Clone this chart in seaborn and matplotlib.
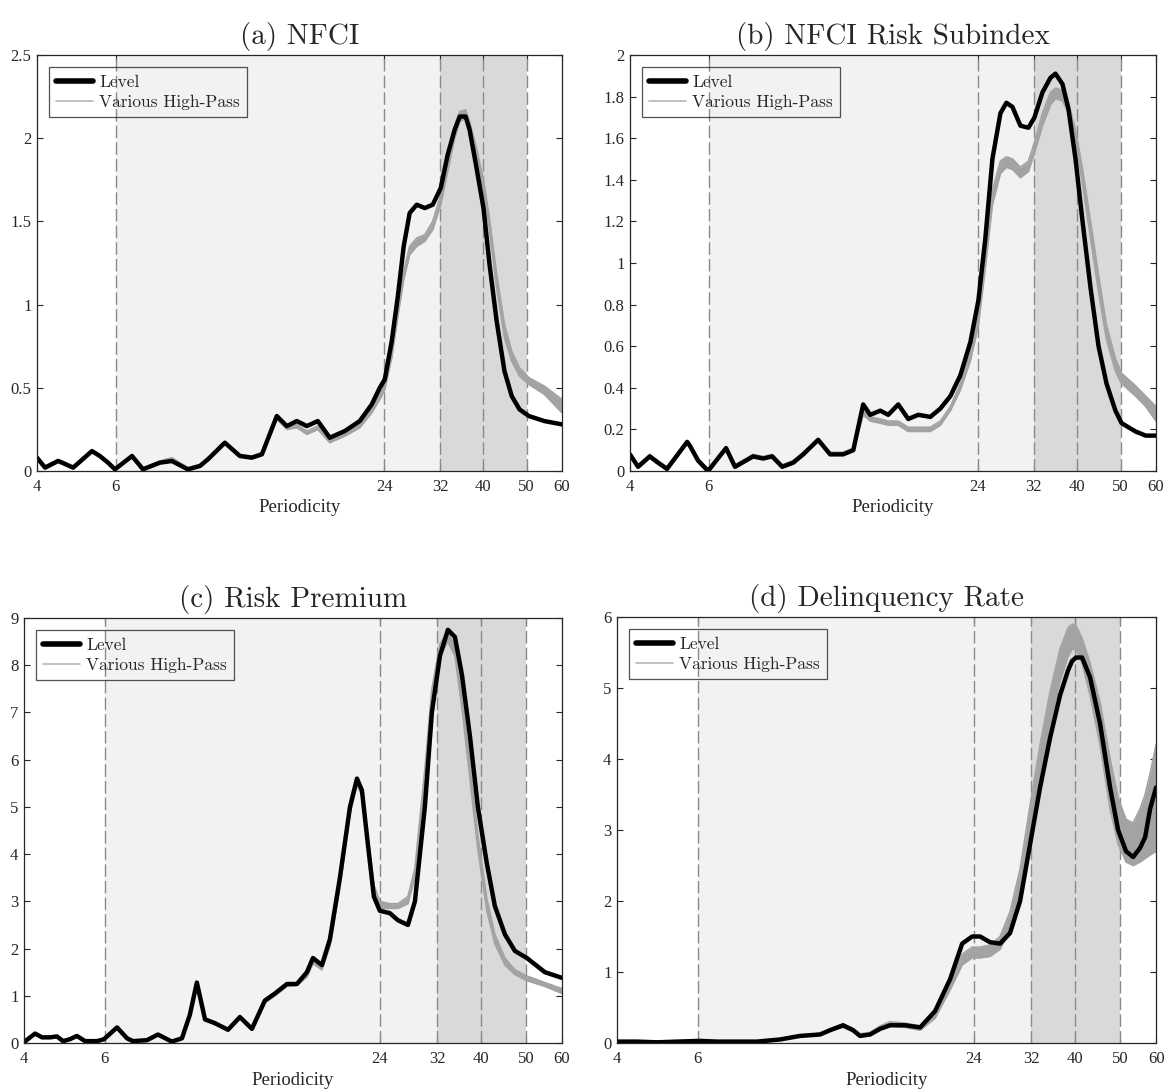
import matplotlib
matplotlib.use("Agg")
import matplotlib.pyplot as plt
import seaborn as sns
from matplotlib.lines import Line2D
from matplotlib.ticker import NullLocator

# (a) NFCI
period_a = [4.00, 4.17, 4.46, 4.55, 4.82, 5.31, 5.53, 5.77, 5.98, 6.53, 6.91, 7.54, 8.02, 8.71,
            9.27, 9.66, 10.54, 11.39, 12.11, 12.76, 13.78, 14.51, 15.28, 16.09, 17.03, 18.11,
            19.57, 21.14, 22.49, 23.44, 24.05, 24.93, 25.73, 26.52, 27.35, 28.36, 29.56, 30.80,
            32.1, 33.27, 34.49, 35.40, 36.50, 37.26, 38.44, 40.02, 41.25, 42.84, 44.6, 46.3,
            48.2, 50.6, 54.8, 60.0]
level_a = [0.08, 0.02, 0.06, 0.05, 0.02, 0.12, 0.09, 0.05, 0.01, 0.09, 0.01, 0.05, 0.06, 0.01,
           0.03, 0.07, 0.17, 0.09, 0.08, 0.10, 0.33, 0.27, 0.30, 0.27, 0.30, 0.20,
           0.24, 0.30, 0.40, 0.50, 0.55, 0.78, 1.05, 1.35, 1.55, 1.60, 1.58, 1.60,
           1.70, 1.90, 2.05, 2.13, 2.13, 2.05, 1.85, 1.58, 1.25, 0.90, 0.60, 0.45,
           0.37, 0.33, 0.30, 0.28]
hp_lo_a = [0.07, 0.02, 0.06, 0.05, 0.02, 0.11, 0.09, 0.05, 0.01, 0.08, 0.01, 0.05, 0.06, 0.01,
           0.03, 0.07, 0.16, 0.09, 0.08, 0.10, 0.31, 0.25, 0.26, 0.22, 0.25, 0.17,
           0.21, 0.26, 0.35, 0.43, 0.49, 0.68, 0.93, 1.15, 1.30, 1.35, 1.38, 1.45,
           1.60, 1.80, 2.00, 2.10, 2.12, 2.05, 1.90, 1.68, 1.45, 1.10, 0.80, 0.66,
           0.57, 0.52, 0.46, 0.35]
hp_hi_a = [0.08, 0.03, 0.07, 0.06, 0.03, 0.12, 0.10, 0.06, 0.02, 0.09, 0.02, 0.06, 0.08, 0.02,
           0.04, 0.08, 0.17, 0.10, 0.09, 0.11, 0.33, 0.27, 0.28, 0.24, 0.27, 0.19,
           0.23, 0.28, 0.37, 0.46, 0.52, 0.72, 0.98, 1.20, 1.35, 1.40, 1.42, 1.50,
           1.66, 1.87, 2.07, 2.16, 2.17, 2.10, 1.96, 1.75, 1.52, 1.18, 0.88, 0.72,
           0.62, 0.56, 0.51, 0.43]

# (b) NFCI Risk Subindex
period_b = [4.00, 4.17, 4.43, 4.62, 4.84, 5.12, 5.37, 5.45, 5.68, 5.98, 6.56, 6.87, 7.54, 7.94,
            8.32, 8.76, 9.27, 9.76, 10.54, 11.21, 11.99, 12.63, 13.29, 13.78, 14.51, 15.12,
            15.92, 16.76, 17.65, 18.78, 19.77, 20.82, 21.92, 23.08, 24.05, 24.93, 25.85, 26.94,
            27.78, 28.66, 29.86, 31.12, 32.1, 33.45, 34.85, 35.76, 37.08, 38.24, 39.65, 41.11,
            42.84, 44.64, 46.52, 48.7, 50.26, 54.0, 56.9, 60.0]
level_b = [0.08, 0.02, 0.07, 0.04, 0.01, 0.08, 0.14, 0.12, 0.05, 0.00, 0.11, 0.02, 0.07, 0.06,
           0.07, 0.02, 0.04, 0.08, 0.15, 0.08, 0.08, 0.10, 0.32, 0.27, 0.29, 0.27,
           0.32, 0.25, 0.27, 0.26, 0.30, 0.36, 0.46, 0.62, 0.82, 1.12, 1.50, 1.72,
           1.77, 1.75, 1.66, 1.65, 1.70, 1.82, 1.89, 1.91, 1.86, 1.74, 1.50, 1.20,
           0.88, 0.60, 0.42, 0.29, 0.23, 0.19, 0.17, 0.17]
hp_lo_b = [0.07, 0.02, 0.07, 0.04, 0.01, 0.08, 0.13, 0.12, 0.05, 0.00, 0.10, 0.02, 0.07, 0.06,
           0.07, 0.02, 0.04, 0.08, 0.14, 0.08, 0.08, 0.10, 0.27, 0.24, 0.23, 0.22,
           0.22, 0.19, 0.19, 0.19, 0.22, 0.29, 0.39, 0.53, 0.70, 0.98, 1.28, 1.43,
           1.46, 1.45, 1.41, 1.44, 1.53, 1.66, 1.76, 1.79, 1.78, 1.72, 1.58, 1.38,
           1.12, 0.86, 0.63, 0.48, 0.42, 0.36, 0.31, 0.24]
hp_hi_b = [0.08, 0.03, 0.08, 0.05, 0.02, 0.09, 0.14, 0.13, 0.06, 0.01, 0.11, 0.03, 0.08, 0.07,
           0.08, 0.03, 0.05, 0.09, 0.15, 0.09, 0.09, 0.11, 0.29, 0.26, 0.25, 0.24,
           0.24, 0.21, 0.21, 0.21, 0.24, 0.31, 0.42, 0.57, 0.75, 1.04, 1.35, 1.49,
           1.51, 1.50, 1.46, 1.49, 1.58, 1.72, 1.82, 1.84, 1.83, 1.77, 1.64, 1.45,
           1.20, 0.94, 0.70, 0.54, 0.47, 0.41, 0.36, 0.31]

# (c) Risk Premium
period_c = [4.00, 4.23, 4.38, 4.56, 4.72, 4.87, 5.04, 5.22, 5.44, 5.78, 5.98, 6.39, 6.72, 6.92,
            7.43, 7.85, 8.42, 8.86, 9.22, 9.55, 9.95, 10.46, 11.17, 11.86, 12.60, 13.45,
            14.15, 15.03, 15.80, 16.62, 17.13, 17.92, 18.66, 19.62, 20.64, 21.38, 21.92, 22.59,
            23.28, 23.99, 25.23, 26.27, 27.63, 28.62, 30.09, 31.17, 32.46, 33.79, 35.00, 36.26,
            37.75, 39.29, 41.11, 42.80, 45.02, 47.34, 50.28, 55.05, 60.0]
level_c = [0.02, 0.20, 0.12, 0.12, 0.14, 0.04, 0.08, 0.15, 0.04, 0.04, 0.08, 0.33, 0.10, 0.04,
           0.06, 0.18, 0.03, 0.10, 0.60, 1.28, 0.50, 0.42, 0.28, 0.55, 0.30, 0.90,
           1.05, 1.25, 1.25, 1.50, 1.80, 1.65, 2.20, 3.50, 5.00, 5.60, 5.35, 4.20,
           3.10, 2.80, 2.75, 2.60, 2.50, 3.00, 5.00, 7.00, 8.20, 8.75, 8.60, 7.80,
           6.50, 5.00, 3.80, 2.90, 2.30, 1.95, 1.80, 1.50, 1.38]
hp_lo_c = [0.02, 0.18, 0.11, 0.11, 0.13, 0.04, 0.07, 0.14, 0.04, 0.04, 0.07, 0.30, 0.09, 0.04,
           0.05, 0.16, 0.03, 0.09, 0.55, 1.22, 0.48, 0.40, 0.27, 0.52, 0.29, 0.85,
           1.00, 1.20, 1.22, 1.40, 1.68, 1.55, 2.05, 3.30, 4.85, 5.45, 5.25, 4.20,
           3.15, 2.85, 2.85, 2.85, 2.95, 3.50, 5.50, 7.20, 8.20, 8.50, 8.20, 7.10,
           5.60, 4.10, 2.80, 2.10, 1.65, 1.45, 1.32, 1.20, 1.05]
hp_hi_c = [0.05, 0.21, 0.13, 0.13, 0.15, 0.06, 0.09, 0.16, 0.06, 0.06, 0.09, 0.34, 0.11, 0.06,
           0.07, 0.19, 0.05, 0.11, 0.62, 1.30, 0.53, 0.44, 0.30, 0.56, 0.32, 0.90,
           1.05, 1.25, 1.27, 1.46, 1.75, 1.62, 2.15, 3.45, 5.05, 5.60, 5.40, 4.40,
           3.35, 3.00, 2.95, 2.95, 3.10, 3.70, 5.80, 7.50, 8.45, 8.70, 8.40, 7.40,
           5.90, 4.40, 3.05, 2.30, 1.80, 1.55, 1.42, 1.28, 1.15]

# (d) Delinquency Rate
period_d = [4.00, 4.42, 4.89, 5.41, 6.07, 6.61, 7.31, 8.08, 9.07, 10.03, 11.09, 11.66, 12.45,
            13.09, 13.56, 14.26, 15.00, 15.77, 17.01, 18.34, 19.77, 21.32, 22.65, 23.81, 24.79,
            26.06, 27.40, 28.81, 30.30, 31.86, 33.50, 35.23, 37.04, 38.56, 39.34, 40.14, 41.37,
            43.07, 45.28, 47.62, 49.58, 51.60, 53.47, 55.38, 56.79, 58.24, 60.0]
level_d = [0.02, 0.02, 0.01, 0.02, 0.03, 0.02, 0.02, 0.02, 0.05, 0.10, 0.12, 0.18, 0.25,
           0.18, 0.10, 0.12, 0.20, 0.25, 0.25, 0.22, 0.45, 0.90, 1.40, 1.50, 1.50,
           1.42, 1.40, 1.55, 2.00, 2.80, 3.60, 4.30, 4.90, 5.25, 5.38, 5.43, 5.43,
           5.15, 4.50, 3.60, 3.00, 2.70, 2.62, 2.75, 2.90, 3.30, 3.60]
hp_lo_d = [0.01, 0.01, 0.01, 0.01, 0.02, 0.01, 0.01, 0.01, 0.04, 0.09, 0.11, 0.17, 0.22,
           0.17, 0.10, 0.12, 0.19, 0.24, 0.22, 0.18, 0.35, 0.75, 1.10, 1.20, 1.20,
           1.22, 1.32, 1.60, 2.15, 3.00, 3.80, 4.50, 5.10, 5.45, 5.55, 5.55, 5.35,
           4.90, 4.20, 3.30, 2.80, 2.55, 2.50, 2.55, 2.60, 2.65, 2.70]
hp_hi_d = [0.03, 0.03, 0.02, 0.03, 0.04, 0.03, 0.03, 0.03, 0.06, 0.11, 0.14, 0.20, 0.27,
           0.21, 0.13, 0.15, 0.24, 0.30, 0.28, 0.24, 0.42, 0.85, 1.25, 1.35, 1.35,
           1.38, 1.50, 1.85, 2.45, 3.35, 4.20, 4.95, 5.55, 5.85, 5.90, 5.88, 5.70,
           5.35, 4.80, 4.00, 3.45, 3.15, 3.10, 3.30, 3.50, 3.80, 4.20]

titles = ["(a) NFCI", "(b) NFCI Risk Subindex", "(c) Risk Premium", "(d) Delinquency Rate"]
yticks_all = [[0, 0.5, 1, 1.5, 2, 2.5],
              [0, 0.2, 0.4, 0.6, 0.8, 1, 1.2, 1.4, 1.6, 1.8, 2],
              [0, 1, 2, 3, 4, 5, 6, 7, 8, 9],
              [0, 1, 2, 3, 4, 5, 6]]
xticks = [4, 6, 24, 32, 40, 50, 60]
bands = [6, 24, 32, 40, 50]

sns.set_style("ticks")
plt.rcParams['font.family'] = ['Liberation Serif', 'DejaVu Serif']
plt.rcParams.update({
    "xtick.direction": "in", "ytick.direction": "in",
    "xtick.top": True, "ytick.right": True,
    "xtick.major.size": 4, "ytick.major.size": 4,
    "xtick.color": "#262626", "ytick.color": "#262626",
    "axes.edgecolor": "#262626", "axes.linewidth": 0.9,
    "lines.solid_joinstyle": "round",
})

fig = plt.figure(figsize=(11.64, 10.90), dpi=100)
# axes boxes in figure fractions
boxes = [[0.0318, 0.5679, 0.4510, 0.3817],
         [0.5412, 0.5679, 0.4519, 0.3817],
         [0.0206, 0.0431, 0.4622, 0.3899],
         [0.5301, 0.0431, 0.4631, 0.3908]]

data = [(period_a, level_a, hp_lo_a, hp_hi_a),
        (period_b, level_b, hp_lo_b, hp_hi_b),
        (period_c, level_c, hp_lo_c, hp_hi_c),
        (period_d, level_d, hp_lo_d, hp_hi_d)]

band_col = "#a3a3a3"

for i in range(4):
    ax = fig.add_axes(boxes[i])
    period, level, lo, hi = data[i]
    ax.set_xscale("log")
    # shaded ranges
    ax.axvspan(6, 32, color="#f2f2f2", lw=0, zorder=0)
    ax.axvspan(32, 50, color="#d9d9d9", lw=0, zorder=0)
    for p in bands:
        ax.axvline(p, color="#8a8a8a", lw=1.0, ls=(0, (9, 3)), zorder=1)

    ax.fill_between(period, lo, hi, color=band_col, lw=0, zorder=2)
    sns.lineplot(x=period, y=lo, ax=ax, color=band_col, lw=1.2, sort=False, zorder=2)
    sns.lineplot(x=period, y=hi, ax=ax, color=band_col, lw=1.2, sort=False, zorder=2)
    sns.lineplot(x=period, y=level, ax=ax, color="black", lw=3.2, sort=False, zorder=3)

    ax.set_xlim(4, 60)
    ax.set_xticks(xticks)
    ax.set_xticklabels([str(t) for t in xticks], fontsize=12)
    ax.xaxis.set_minor_locator(NullLocator())
    yt = yticks_all[i]
    ax.set_ylim(0, yt[-1])
    ax.set_yticks(yt)
    ax.set_yticklabels(["%g" % v for v in yt], fontsize=12)
    ax.tick_params(axis="x", pad=6)
    ax.tick_params(axis="y", pad=4)
    ax.set_xlabel("Periodicity", fontsize=13.5, labelpad=3)
    ax.set_ylabel("")
    ax.set_title(titles[i], fontfamily="cmr10", fontsize=21, pad=8)

    handles = [Line2D([], [], color="black", lw=4),
               Line2D([], [], color="#b8b8b8", lw=1.2)]
    leg = ax.legend(handles, ["Level", "Various High-Pass"], loc="upper left",
                    prop={"family": "cmr10", "size": 12.5}, frameon=True, fancybox=False,
                    edgecolor="#262626", facecolor="none", handlelength=2.1,
                    handletextpad=0.35, labelspacing=0.28, borderpad=0.42,
                    borderaxespad=0.7)
    leg.get_frame().set_linewidth(0.9)
    for sp in ax.spines.values():
        sp.set_visible(True)
        sp.set_zorder(5)

fig.savefig("out.png", dpi=100)
